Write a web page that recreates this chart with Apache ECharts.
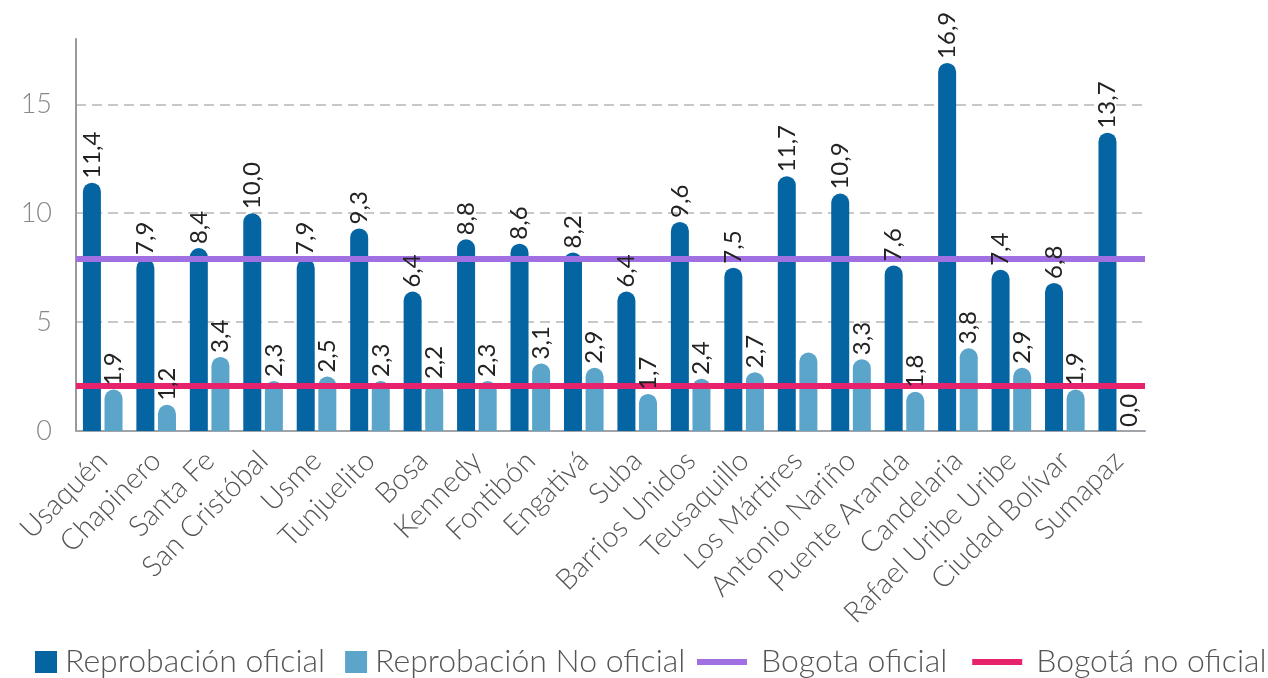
<!DOCTYPE html>
<html>
<head>
<meta charset="utf-8">
<style>
  html, body { margin: 0; padding: 0; background: #fff; }
  #reprobacion_con { width: 1268px; height: 678px; }
</style>
<script src="https://cdn.jsdelivr.net/npm/echarts@6/dist/echarts.min.js"></script>
</head>
<body>
<div id="reprobacion_con"></div>
<script>
const localidades = ['Usaquén', 'Chapinero', 'Santa Fe', 'San Cristóbal', 'Usme', 'Tunjuelito', 'Bosa',
    'Kennedy', 'Fontibón', 'Engativá', 'Suba', 'Barrios Unidos', 'Teusaquillo', 'Los Mártires',
    'Antonio Nariño', 'Puente Aranda', 'Candelaria', 'Rafael Uribe Uribe', 'Ciudad Bolívar', 'Sumapaz'];
const reprobacionOficial = [11.4, 7.9, 8.4, 10.0, 7.9, 9.3, 6.4, 8.8, 8.6, 8.2, 6.4, 9.6, 7.5, 11.7, 10.9, 7.6, 16.9, 7.4, 6.8, 13.7];
const reprobacionNoOficial = [1.9, 1.2, 3.4, 2.3, 2.5, 2.3, 2.2, 2.3, 3.1, 2.9, 1.7, 2.4, 2.7, 3.6, 3.3, 1.8, 3.8, 2.9, 1.9, 0.0];
// la barra no oficial de Los Mártires no lleva etiqueta en el original
const sinEtiquetaNoOficial = ['Los Mártires'];
const bogotaOficial = 7.9;
const bogotaNoOficial = 2.1;
const yTicks = [0, 5, 10, 15];

const fuente = 'Lato, "Open Sans", sans-serif';
const coma = function (p) { return Number(p.value).toFixed(1).replace('.', ','); };

const etiquetaBarra = {
    show: true,
    position: 'top',
    rotate: 90,
    align: 'left',
    verticalAlign: 'middle',
    distance: 4,
    fontFamily: fuente,
    fontSize: 24,
    color: '#222',
    formatter: coma
};

// las etiquetas van por encima de las lineas de Bogota, las barras por debajo:
// se dibujan en un segundo eje x oculto con barras transparentes
const datosNoOficial = reprobacionNoOficial.map(function (v, i) {
    if (sinEtiquetaNoOficial.indexOf(localidades[i]) >= 0) {
        return { value: v, label: { show: false } };
    }
    return v;
});

function lineaBogota(nombre, color, valor) {
    return {
        name: nombre,
        type: 'line',
        z: 10,
        color: color,
        itemStyle: { color: color },
        data: [],
        markLine: {
            silent: true,
            symbol: ['none', 'none'],
            label: { show: false },
            lineStyle: { color: color, width: 6, type: 'solid' },
            data: [{ yAxis: valor }]
        }
    };
}

let chart = echarts.init(document.getElementById('reprobacion_con'));
const option = {
    animation: false,
    grid: { left: 76, right: 123, top: 39, bottom: 247 },
    legend: [
        {
            data: ['Reprobación oficial', 'Reprobación No oficial'],
            left: 35,
            top: 646,
            padding: 0,
            icon: 'rect',
            itemWidth: 22,
            itemHeight: 22,
            itemGap: 20,
            textStyle: { fontFamily: fuente, fontWeight: 300, fontSize: 32, color: '#555', padding: [0, 0, 0, 3] }
        },
        {
            data: ['Bogota oficial', 'Bogotá no oficial'],
            left: 697,
            top: 646,
            padding: 0,
            icon: 'rect',
            itemWidth: 50,
            itemHeight: 6,
            itemGap: 25,
            textStyle: { fontFamily: fuente, fontWeight: 300, fontSize: 32, color: '#555', padding: [0, 0, 0, 9] }
        }
    ],
    xAxis: [
        {
            type: 'category',
            data: localidades,
            axisTick: { show: false },
            axisLine: { lineStyle: { color: '#a0a4a8', width: 2 } },
            axisLabel: {
                interval: 0,
                rotate: 45,
                margin: 25,
                fontFamily: fuente,
                fontWeight: 300,
                fontSize: 29,
                color: '#555'
            }
        },
        {
            type: 'category',
            data: localidades,
            show: false
        }
    ],
    yAxis: {
        type: 'value',
        min: yTicks[0],
        max: 18,
        interval: yTicks[1] - yTicks[0],
        axisLine: { show: true, lineStyle: { color: '#9a9a9a', width: 2 } },
        axisTick: { show: false },
        axisLabel: {
            margin: 24,
            showMaxLabel: false,
            fontFamily: fuente,
            fontWeight: 300,
            fontSize: 27,
            color: '#888'
        },
        splitLine: {
            lineStyle: {
                color: ['transparent', '#c8c8c8', '#c8c8c8', '#c8c8c8', 'transparent'],
                width: 2,
                type: [10, 6]
            }
        }
    },
    series: [
        {
            name: 'Reprobación oficial',
            type: 'bar',
            barWidth: 18,
            barGap: '20%',
            itemStyle: { color: '#0565a3', borderRadius: [9, 9, 0, 0] },
            data: reprobacionOficial
        },
        {
            name: 'Reprobación No oficial',
            type: 'bar',
            barWidth: 18,
            itemStyle: { color: '#5ba4ca', borderRadius: [9, 9, 0, 0] },
            data: reprobacionNoOficial
        },
        lineaBogota('Bogota oficial', '#a070e2', bogotaOficial),
        lineaBogota('Bogotá no oficial', '#e8236e', bogotaNoOficial),
        {
            name: 'etiquetas oficial',
            type: 'bar',
            xAxisIndex: 1,
            z: 20,
            silent: true,
            barWidth: 18,
            barGap: '20%',
            itemStyle: { color: 'transparent' },
            label: etiquetaBarra,
            data: reprobacionOficial
        },
        {
            name: 'etiquetas no oficial',
            type: 'bar',
            xAxisIndex: 1,
            z: 20,
            silent: true,
            barWidth: 18,
            itemStyle: { color: 'transparent' },
            label: etiquetaBarra,
            data: datosNoOficial
        }
    ]
};
chart.setOption(option);
window.addEventListener('resize', function () {
    chart.resize();
});
</script>
</body>
</html>
